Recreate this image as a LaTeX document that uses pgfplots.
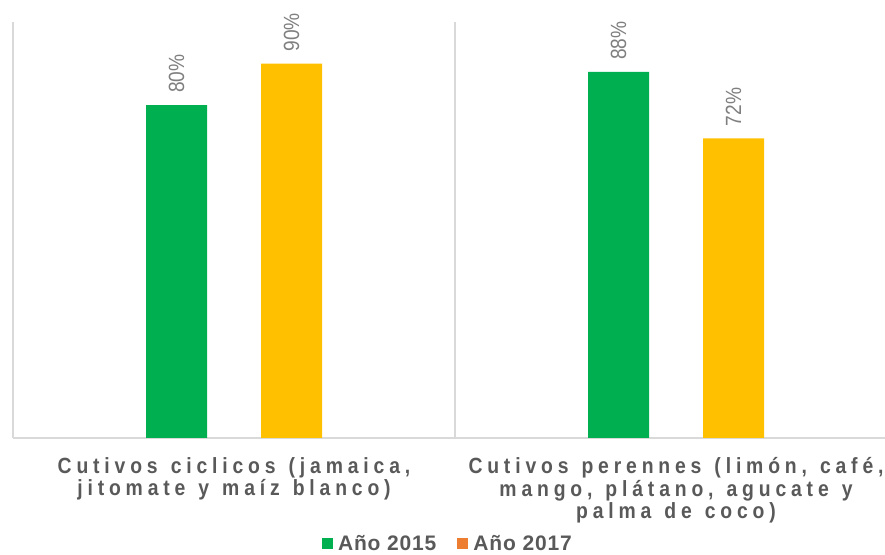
\documentclass[border=0pt]{standalone}
\usepackage{fontspec}
\setmainfont{Liberation Sans}
\newfontfamily\catfont[FakeStretch=0.88, LetterSpace=22]{Liberation Sans}
\newfontfamily\valfont[FakeStretch=0.87]{Liberation Sans}
\newfontfamily\legfont[LetterSpace=4]{Liberation Sans}
\newcommand\catsel{\catfont\bfseries\fontsize{22bp}{22.5bp}\selectfont\setlength{\spaceskip}{13bp}}
\usepackage{pgfplots}
\pgfplotsset{compat=1.18}
\definecolor{g15}{HTML}{00B050}
\definecolor{y17}{HTML}{FFC000}
\definecolor{o17}{HTML}{ED7D31}
\definecolor{axgray}{HTML}{D9D9D9}
\definecolor{txtgray}{HTML}{595959}
\definecolor{valgray}{HTML}{7F7F7F}
\begin{document}
\begin{tikzpicture}[x=1bp,y=1bp]
\useasboundingbox (0,0) rectangle (885,555);
\begin{axis}[
  at={(13bp,117bp)}, anchor=south west,
  scale only axis, width=884bp, height=416bp,
  xmin=-0.5, xmax=1.5, ymin=0, ymax=100,
  axis x line*=bottom, axis y line*=left,
  axis line style={axgray, line width=1.2bp},
  ytick=\empty,
  xtick={0,1},
  xticklabels={{Cutivos ciclicos (jamaica,\\jitomate y maíz blanco)},{Cutivos perennes (limón, café,\\mango, plátano, agucate y\\palma de coco)}},
  x tick label style={align=center, font=\catsel, text=txtgray, yshift=-16bp},
  major tick length=0pt,
  extra x ticks={0.5},
  extra x tick labels={},
  extra x tick style={grid=major, major grid style={axgray, line width=1.2bp}},
  ybar=54bp, bar width=61bp,
  /pgf/number format/assume math mode=true,
  nodes near coords={\pgfmathprintnumber{\pgfplotspointmeta}\%},
  nodes near coords style={rotate=90, anchor=west, inner xsep=12bp, inner ysep=0pt, font=\valfont\fontsize{22bp}{24bp}\selectfont, text=valgray},
  legend style={at={(0.492,0)}, anchor=center, yshift=-106bp, draw=none, fill=none, legend columns=2,
    font=\legfont\bfseries\fontsize{21bp}{24bp}\selectfont, text=txtgray,
    /tikz/every odd column/.append style={column sep=3bp},
    /tikz/every even column/.append style={column sep=19bp}},
  legend image code/.code={\fill[#1] (0bp,-5.5bp) rectangle (11bp,5.5bp);},
]
\addplot[fill=g15, draw=none] coordinates {(0,80) (1,88)};
\addlegendentry{Año 2015}
\addplot[fill=y17, draw=none, legend image code/.code={\fill[o17] (0bp,-5.5bp) rectangle (11bp,5.5bp);}] coordinates {(0,90) (1,72)};
\addlegendentry{Año 2017}
\end{axis}
\end{tikzpicture}
\end{document}
